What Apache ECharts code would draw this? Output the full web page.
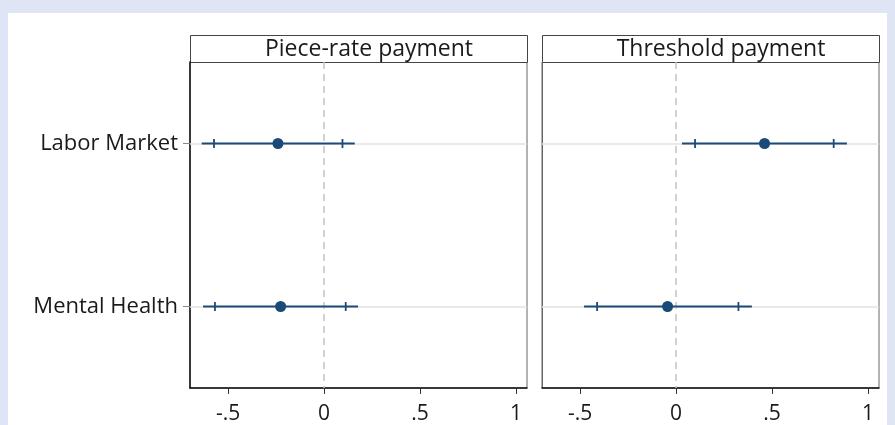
<!DOCTYPE html>
<html>
<head>
<meta charset="utf-8">
<script src="https://cdn.jsdelivr.net/npm/echarts@6/dist/echarts.min.js"></script>
<style>
  html, body { margin: 0; padding: 0; background: #dfe5f4; }
  #wrap { position: relative; width: 895px; height: 425px; overflow: hidden; }
  #paper { position: absolute; left: 8px; top: 13px; width: 879px; height: 420px; background: #ffffff; }
  #chart { position: absolute; left: 0; top: 0; width: 895px; height: 425px; }
</style>
</head>
<body>
<div id="wrap">
  <div id="paper"></div>
  <div id="chart"></div>
</div>
<script>
// Outcomes (rows) and treatment arms (panels)
const categories = ['Labor Market', 'Mental Health'];
const panelTitles = ['Piece-rate payment', 'Threshold payment'];
const xTicks = [-0.5, 0, 0.5, 1];

// Piece-rate payment: point estimates with 90% and 95% intervals
const pieceCoef = [-0.240, -0.226];
const pieceLo90 = [-0.573, -0.568];
const pieceHi90 = [0.096, 0.113];
const pieceLo95 = [-0.637, -0.630];
const pieceHi95 = [0.160, 0.177];

// Threshold payment: point estimates with 90% and 95% intervals
const threshCoef = [0.461, -0.044];
const threshLo90 = [0.099, -0.411];
const threshHi90 = [0.821, 0.325];
const threshLo95 = [0.031, -0.479];
const threshHi95 = [0.890, 0.395];

const NAVY = '#1b4a78';
const FONT = '"Open Sans", "Noto Sans", sans-serif';
const X_MIN = -0.698, X_MAX = 1.057;

function rows(coef, lo90, hi90, lo95, hi95) {
  return categories.map((c, i) => [lo95[i], hi95[i], lo90[i], hi90[i], coef[i], i]);
}

function renderCI(params, api) {
  const cat = api.value(5);
  const a = api.coord([api.value(0), cat]);
  const b = api.coord([api.value(1), cat]);
  const l90 = api.coord([api.value(2), cat]);
  const h90 = api.coord([api.value(3), cat]);
  const p = api.coord([api.value(4), cat]);
  const st = { stroke: NAVY, lineWidth: 1.8 };
  return {
    type: 'group',
    children: [
      { type: 'line', shape: { x1: a[0], y1: a[1], x2: b[0], y2: b[1] }, style: st },
      { type: 'line', shape: { x1: l90[0], y1: l90[1] - 4.5, x2: l90[0], y2: l90[1] + 4.5 }, style: st },
      { type: 'line', shape: { x1: h90[0], y1: h90[1] - 4.5, x2: h90[0], y2: h90[1] + 4.5 }, style: st },
      { type: 'circle', shape: { cx: p[0], cy: p[1], r: 5.5 }, style: { fill: NAVY } }
    ]
  };
}

const grids = [
  { left: 190, top: 62, width: 337, height: 326 },
  { left: 542, top: 62, width: 337, height: 326 }
];

function xAxis(gi) {
  return {
    type: 'value', gridIndex: gi, min: X_MIN, max: X_MAX,
    splitLine: { show: false },
    axisLine: { show: true, onZero: false, lineStyle: { color: '#111', width: 1.5 } },
    axisTick: { show: true, length: 6, customValues: xTicks, lineStyle: { color: '#333', width: 1 } },
    axisLabel: {
      show: true, customValues: xTicks, margin: 16, fontSize: 21, fontFamily: FONT, color: '#1a1a1a',
      formatter: v => (v === 0 ? '0' : String(v).replace('0.', '.'))
    }
  };
}

function yAxis(gi, showLabels) {
  return {
    type: 'category', gridIndex: gi, data: categories, inverse: true,
    axisLine: { show: true, onZero: false, lineStyle: { color: showLabels ? '#111' : '#666', width: showLabels ? 1.5 : 1 } },
    axisTick: { show: showLabels, alignWithLabel: true, length: 7, lineStyle: { color: '#888' } },
    axisLabel: { show: showLabels, margin: 12, fontSize: 22, fontFamily: FONT, color: '#1a1a1a' },
    splitLine: { show: false }
  };
}

function ciSeries(gi, data) {
  return {
    type: 'custom', xAxisIndex: gi, yAxisIndex: gi,
    renderItem: renderCI, data: data, z: 5,
    markLine: {
      silent: true, symbol: 'none', label: { show: false },
      data: [
        { xAxis: 0, lineStyle: { color: '#c4c4c4', type: [7, 5], width: 1.5 } },
        { yAxis: categories[0], lineStyle: { color: '#e3e3e3', type: 'solid', width: 1.5 } },
        { yAxis: categories[1], lineStyle: { color: '#e3e3e3', type: 'solid', width: 1.5 } }
      ]
    }
  };
}

function header(g, title) {
  return {
    type: 'group', left: g.left, top: 35,
    children: [
      { type: 'rect', shape: { x: 0, y: 0, width: g.width, height: 27 },
        style: { fill: '#ffffff', stroke: '#444', lineWidth: 1 } },
      { type: 'text', x: g.width / 2 + 10, y: 13.5,
        style: { text: title, fill: '#1a1a1a', font: '23px ' + FONT, textAlign: 'center', textVerticalAlign: 'middle' } }
    ]
  };
}

const chart = echarts.init(document.getElementById('chart'), null, { renderer: 'canvas' });
chart.setOption({
  backgroundColor: 'transparent',
  animation: false,
  grid: grids.map(g => Object.assign({ show: true, borderColor: '#666', borderWidth: 1, backgroundColor: '#fff' }, g)),
  xAxis: [xAxis(0), xAxis(1)],
  yAxis: [yAxis(0, true), yAxis(1, false)],
  series: [
    ciSeries(0, rows(pieceCoef, pieceLo90, pieceHi90, pieceLo95, pieceHi95)),
    ciSeries(1, rows(threshCoef, threshLo90, threshHi90, threshLo95, threshHi95))
  ],
  graphic: panelTitles.map((t, i) => header(grids[i], t))
});
</script>
</body>
</html>
